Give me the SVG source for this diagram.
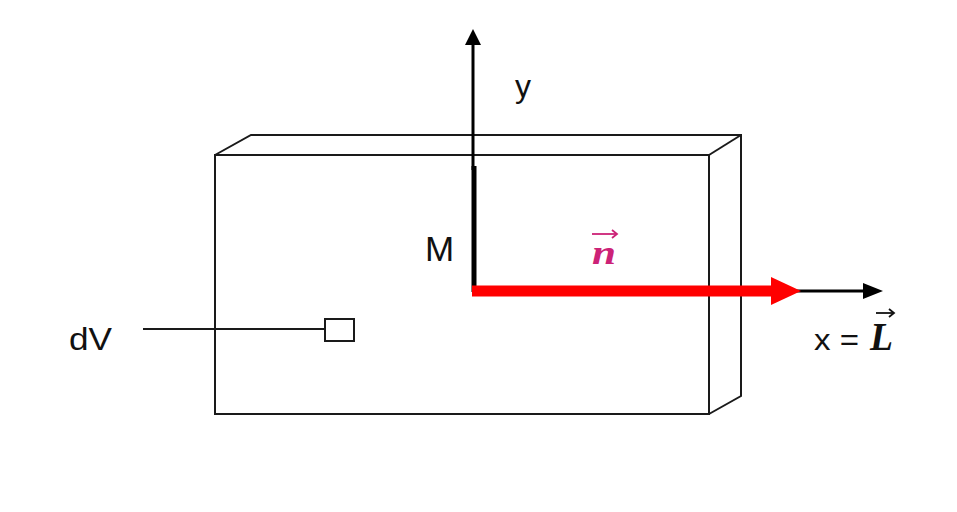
<svg xmlns="http://www.w3.org/2000/svg" width="957" height="512" viewBox="0 0 957 512">
<style>
.edge{fill:none;stroke:#1a1a1a;stroke-width:2}
.lbl{font-family:"Liberation Sans",Arial,sans-serif;fill:#111}
.math{font-family:"Liberation Serif","Times New Roman",serif;font-weight:bold;font-style:italic}
</style>
<rect width="957" height="512" fill="#fff"/>
<g id="box">
<rect class="edge" x="215" y="155" width="494" height="259"/>
<polyline class="edge" points="215,155 251,135 741,135 741,396 709,414"/>
<line class="edge" x1="709" y1="155" x2="741" y2="135"/>
</g>
<g id="dV">
<line x1="143" y1="329" x2="325" y2="329" stroke="#1a1a1a" stroke-width="2"/>
<rect x="325" y="319" width="29" height="22" fill="#fff" stroke="#1a1a1a" stroke-width="2"/>
<text class="lbl" x="69" y="350" font-size="32" textLength="43" lengthAdjust="spacingAndGlyphs">dV</text>
</g>
<g id="axes">
<line x1="473" y1="42" x2="473" y2="170" stroke="#000" stroke-width="3"/>
<line x1="474" y1="166" x2="474" y2="292" stroke="#000" stroke-width="5"/>
<polygon points="473,29 465,45 481,45" fill="#000"/>
<line x1="795" y1="291" x2="866" y2="291" stroke="#000" stroke-width="3"/>
<polygon points="883,291 863,283 863,299" fill="#000"/>
<line x1="472" y1="291" x2="775" y2="291" stroke="#f00" stroke-width="11"/>
<polygon points="801,291 771,277 771,305" fill="#f00"/>
</g>
<g id="labels">
<text class="lbl" x="515" y="97" font-size="32">y</text>
<text class="lbl" x="425" y="261" font-size="35">M</text>
<text class="math" x="592" y="264" font-size="33" fill="#cc2277" textLength="24" lengthAdjust="spacingAndGlyphs">n</text>
<g stroke="#cc2277" stroke-width="1.8" fill="none">
<line x1="592" y1="234" x2="616" y2="234"/>
<polyline points="612,230 617,234 612,238"/>
</g>
<text class="lbl" x="814" y="350" font-size="29" textLength="45" lengthAdjust="spacingAndGlyphs">x =</text>
<text class="math" x="870" y="350" font-size="40" fill="#111" textLength="23" lengthAdjust="spacingAndGlyphs">L</text>
<g stroke="#111" stroke-width="1.8" fill="none">
<line x1="876" y1="313" x2="893" y2="313"/>
<polyline points="889,309 894,313 889,317"/>
</g>
</g>
</svg>
